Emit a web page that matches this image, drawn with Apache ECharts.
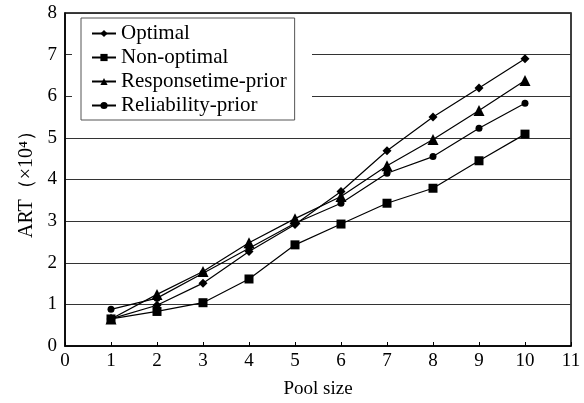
<!DOCTYPE html>
<html>
<head>
<meta charset="utf-8">
<script src="https://cdn.jsdelivr.net/npm/echarts@6/dist/echarts.min.js"></script>
<style>
  html, body { margin: 0; padding: 0; background: #fff; }
  #chartsId { width: 584px; height: 403px; }
</style>
</head>
<body>
<div id="chartsId"></div>
<script>
// pool sizes
var poolSize = [1, 2, 3, 4, 5, 6, 7, 8, 9, 10];
// ART values (x10^4)
var dataOptimal = [0.65, 0.98, 1.51, 2.27, 2.92, 3.71, 4.69, 5.50, 6.20, 6.90];
var dataNonOptimal = [0.65, 0.83, 1.04, 1.61, 2.43, 2.93, 3.43, 3.79, 4.45, 5.09];
var dataResponse = [0.65, 1.24, 1.79, 2.48, 3.06, 3.59, 4.33, 4.96, 5.66, 6.38];
var dataReliability = [0.88, 1.15, 1.75, 2.35, 2.95, 3.43, 4.15, 4.55, 5.23, 5.83];

var font = "Liberation Serif";

function pairs(arr) {
  var out = [];
  for (var i = 0; i < arr.length; i++) {
    out.push([poolSize[i], arr[i]]);
  }
  return out;
}

function lineSeries(name, symbol, size, data) {
  return {
    name: name,
    type: "line",
    symbol: symbol,
    symbolSize: size,
    showAllSymbol: true,
    itemStyle: { color: "#000" },
    lineStyle: { color: "#000", width: 1.2 },
    data: pairs(data)
  };
}

var myChart = echarts.init(document.getElementById("chartsId"));
var option = {
  animation: false,
  grid: {
    left: 65,
    right: 13,
    top: 13,
    bottom: 57,
    outerBoundsMode: "none",
    containLabel: false,
    show: true,
    borderColor: "#000",
    borderWidth: 1.5
  },
  graphic: [
    {
      type: "rect",
      z: 1,
      shape: { x: 72, y: 14, width: 240, height: 112 },
      style: { fill: "#fff" }
    }
  ],
  legend: {
    orient: "vertical",
    left: 81,
    top: 18,
    z: 5,
    padding: [5, 8, 4, 10],
    itemGap: 3,
    itemWidth: 24,
    itemHeight: 9,
    backgroundColor: "#fff",
    borderColor: "#555",
    borderWidth: 1,
    borderRadius: 0,
    textStyle: { fontFamily: font, fontSize: 21, color: "#000", padding: [0, 0, 0, 0], lineHeight: 20 },
    data: ["Optimal", "Non-optimal", "Responsetime-prior", "Reliability-prior"]
  },
  xAxis: {
    type: "value",
    min: 0,
    max: 11,
    interval: 1,
    name: "Pool size",
    nameLocation: "middle",
    nameGap: 34,
    nameTextStyle: { fontFamily: font, fontSize: 19, color: "#000" },
    axisLine: { lineStyle: { color: "#000", width: 1.5 } },
    axisTick: { inside: true, length: 4, lineStyle: { color: "#000" } },
    axisLabel: { fontFamily: font, fontSize: 19, color: "#000", margin: 6 },
    splitLine: { show: false }
  },
  yAxis: {
    type: "value",
    min: 0,
    max: 8,
    interval: 1,
    name: "ART（×10⁴）",
    nameLocation: "middle",
    nameGap: 26,
    nameRotate: 90,
    nameTextStyle: { fontFamily: font, fontSize: 20, color: "#000" },
    axisLine: { lineStyle: { color: "#000", width: 1.5 } },
    axisTick: { show: false },
    axisLabel: { fontFamily: font, fontSize: 19, color: "#000", margin: 8 },
    splitLine: { show: true, lineStyle: { color: "#333", width: 1 } }
  },
  series: [
    lineSeries("Optimal", "diamond", 9, dataOptimal),
    lineSeries("Non-optimal", "rect", 9, dataNonOptimal),
    lineSeries("Responsetime-prior", "triangle", 11, dataResponse),
    lineSeries("Reliability-prior", "circle", 7, dataReliability)
  ]
};
myChart.setOption(option);
</script>
</body>
</html>
